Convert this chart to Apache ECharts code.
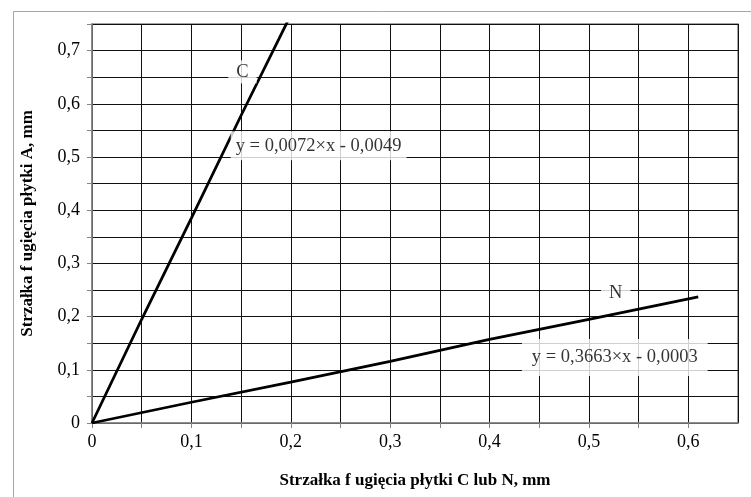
<!DOCTYPE html>
<html>
<head>
<meta charset="utf-8">
<script src="https://cdn.jsdelivr.net/npm/echarts@6/dist/echarts.min.js"></script>
<style>html,body{margin:0;padding:0;background:#fff}#c{width:751px;height:497px}</style>
</head>
<body>
<div id="c"></div>
<script>
const seriesC = [[0, 0], [0.05, 0.195], [0.1, 0.385], [0.15, 0.578], [0.2, 0.767]];
const seriesN = [[0, 0], [0.1, 0.039], [0.2, 0.077], [0.3, 0.116], [0.4, 0.157], [0.5, 0.195], [0.61, 0.237]];
const annotations = [
  [0.1514, 0.66, 'C'],
  [0.228, 0.521, 'y = 0,0072×x - 0,0049'],
  [0.527, 0.2445, 'N'],
  [0.526, 0.123, 'y = 0,3663×x - 0,0003']
];
const xTitle = 'Strzałka f ugięcia płytki C lub N, mm';
const yTitle = 'Strzałka f ugięcia płytki A, mm';

const font = '"Liberation Serif", "Times New Roman", serif';
const pads = [[2, 8], [5, 5], [2, 8], [9, 10]];
function fmt(v) {
  const r = Math.round(v * 100);
  if (r % 10 !== 0) return '';
  if (r === 0) return '0';
  return (r / 100).toFixed(1).replace('.', ',');
}
const chart = echarts.init(document.getElementById('c'), null, {renderer: 'canvas'});
chart.setOption({
  animation: false,
  backgroundColor: '#fff',
  graphic: [{
    type: 'rect', left: 11, top: 9, shape: {width: 800, height: 520},
    style: {fill: 'none', stroke: '#a6a6a6', lineWidth: 1}, silent: true, z: -1
  }],
  grid: {left: 92, top: 24, right: 13, bottom: 74, show: true, borderColor: '#868686', borderWidth: 1.5, backgroundColor: 'transparent'},
  xAxis: {
    type: 'value', min: 0, max: 0.65, interval: 0.05,
    name: xTitle, nameLocation: 'middle', nameGap: 49,
    nameTextStyle: {fontFamily: font, fontSize: 17, fontWeight: 'bold', color: '#000'},
    axisLine: {show: true, lineStyle: {color: '#868686', width: 1.5}},
    axisTick: {show: true, length: 5, lineStyle: {color: '#868686'}},
    splitLine: {show: true, lineStyle: {color: '#111', width: 1}},
    axisLabel: {formatter: fmt, fontFamily: font, fontSize: 18, color: '#000', margin: 10, showMaxLabel: false}
  },
  yAxis: {
    type: 'value', min: 0, max: 0.75, interval: 0.05,
    name: yTitle, nameLocation: 'middle', nameGap: 56, nameRotate: 90,
    nameTextStyle: {fontFamily: font, fontSize: 17, fontWeight: 'bold', color: '#000'},
    axisLine: {show: true, lineStyle: {color: '#868686', width: 1.5}},
    axisTick: {show: true, length: 5, lineStyle: {color: '#868686'}},
    splitLine: {show: true, lineStyle: {color: '#111', width: 1}},
    axisLabel: {formatter: fmt, fontFamily: font, fontSize: 18, color: '#000', margin: 12}
  },
  series: [
    {type: 'line', name: 'C', data: seriesC, symbol: 'none', clip: true,
     lineStyle: {color: '#000', width: 2.8}, z: 3},
    {type: 'line', name: 'N', data: seriesN, symbol: 'none', clip: true,
     lineStyle: {color: '#000', width: 2.8}, z: 3},
    {type: 'scatter', symbolSize: 0, z: 5, silent: true,
     data: annotations.map((a, i) => ({value: a, label: {padding: pads[i]}})),
     label: {show: true, position: 'inside', formatter: p => p.data.value[2],
       fontFamily: font, fontSize: 18.5, color: '#000', backgroundColor: '#fff'}}
  ]
});
</script>
</body>
</html>
